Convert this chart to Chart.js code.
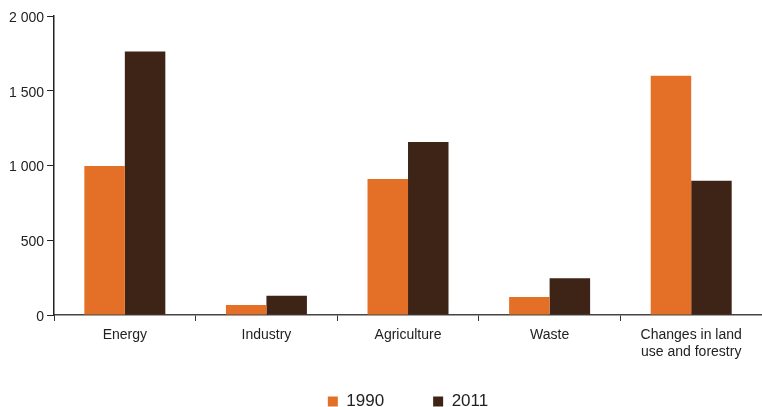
<!DOCTYPE html>
<html>
<head>
<meta charset="utf-8">
<script src="https://cdn.jsdelivr.net/npm/chart.js@4"></script>
<style>
  html, body { margin: 0; padding: 0; background: #fff; }
  #wrap { width: 762px; height: 407px; }
</style>
</head>
<body>
<div id="wrap"><canvas id="chart" width="762" height="407"></canvas></div>
<script>
const categories = ["Energy", "Industry", "Agriculture", "Waste", ["Changes in land", "use and forestry"]];
const seriesNames = ["1990", "2011"];
const values1990 = [997, 67, 910, 120, 1600];
const values2011 = [1762, 129, 1158, 245, 898];
const yTickValues = [0, 500, 1000, 1500, 2000];
const yTickLabels = ["0", "500", "1 000", "1 500", "2 000"];

const orange = "#e46f27";
const brown = "#3e2416";
const font = "'Liberation Sans', Arial, sans-serif";

// legend sits closer to the axis labels than its item gap would allow
const legendShift = {
  id: "legendShift",
  afterLayout(chart) {
    const lg = chart.legend;
    if (!lg) return;
    lg.top = 344;
    lg.bottom = chart.height + 30;
    lg.height = lg.bottom - lg.top;
  },
};

const ctx = document.getElementById("chart").getContext("2d");

new Chart(ctx, {
  type: "bar",
  data: {
    labels: categories,
    datasets: [
      { label: seriesNames[0], data: values1990, backgroundColor: orange, borderWidth: 0 },
      { label: seriesNames[1], data: values2011, backgroundColor: brown, borderWidth: 0 },
    ],
  },
  plugins: [legendShift],
  options: {
    responsive: false,
    animation: false,
    layout: { padding: { top: 16, left: 6, right: 0, bottom: 0 } },
    datasets: {
      bar: { categoryPercentage: 0.572, barPercentage: 1 },
    },
    plugins: {
      tooltip: { enabled: false },
      legend: {
        position: "bottom",
        fullSize: false,
        maxHeight: 44,
        labels: {
          boxWidth: 10,
          boxHeight: 10,
          padding: 49,
          color: "#222",
          font: { family: font, size: 17 },
        },
      },
    },
    scales: {
      x: {
        grid: { drawOnChartArea: false, tickLength: 6, color: "#333", offset: true },
        border: { color: "#444", width: 1.5 },
        ticks: { color: "#222", padding: 6, maxRotation: 0, autoSkip: false, font: { family: font, size: 14 } },
        afterFit: (scale) => { scale.height = 48; },
      },
      y: {
        min: 0,
        max: 2000,
        afterBuildTicks: (scale) => { scale.ticks = yTickValues.map((v) => ({ value: v })); },
        grid: { drawOnChartArea: false, tickLength: 7, color: "#222" },
        border: { color: "#222", width: 1.5 },
        ticks: {
          color: "#222",
          padding: 3,
          labelOffset: 2,
          font: { family: font, size: 14 },
          callback: (v) => yTickLabels[yTickValues.indexOf(v)],
        },
      },
    },
  },
});
</script>
</body>
</html>
